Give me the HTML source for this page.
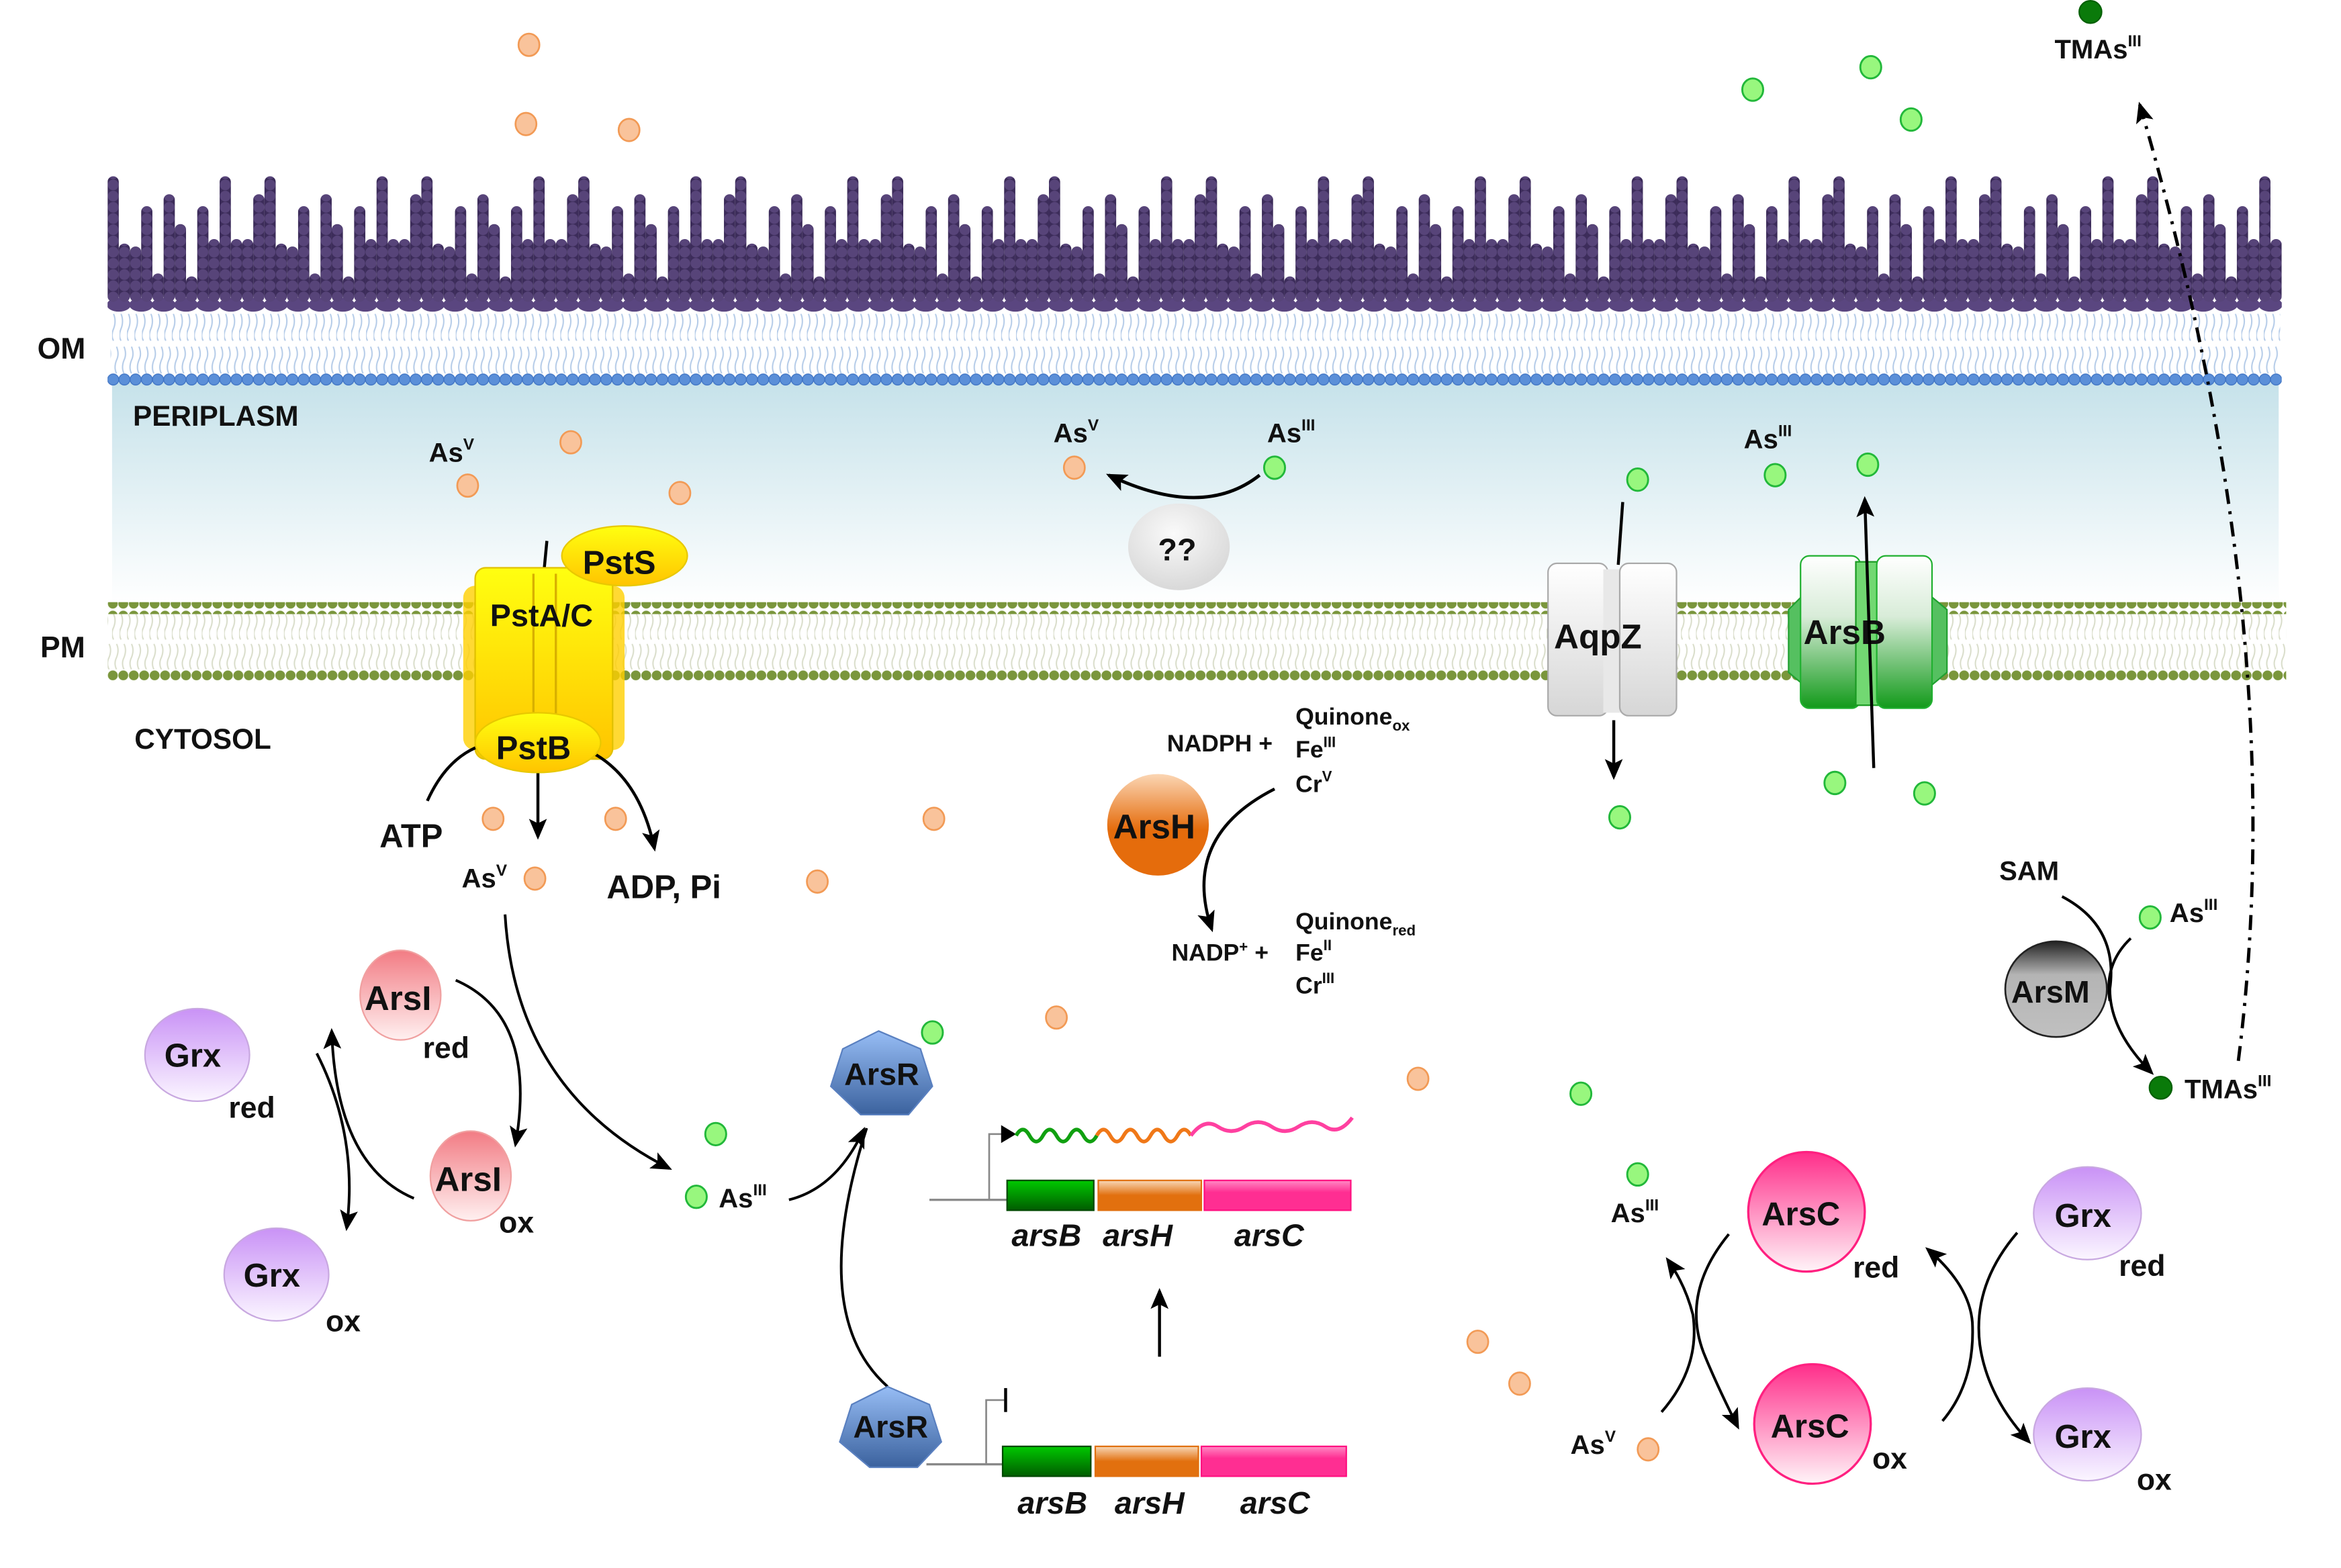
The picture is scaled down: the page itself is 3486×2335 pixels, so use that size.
<!DOCTYPE html>
<html><head><meta charset="utf-8"><style>
html,body{margin:0;padding:0;background:#fff;}
svg{display:block;}
text{font-family:"Liberation Sans",Arial,sans-serif;font-weight:bold;fill:#111;}
</style></head><body>
<svg width="3486" height="2335" viewBox="0 0 1566.7 1049.4" preserveAspectRatio="none" xmlns="http://www.w3.org/2000/svg">
<defs>
<marker id="ahs" markerWidth="14" markerHeight="12" refX="12" refY="6" orient="auto" markerUnits="userSpaceOnUse"><path d="M0,0 L14,6 L0,12 L3,6 Z" fill="#000"/></marker>
<pattern id="beads" patternUnits="userSpaceOnUse" x="0" y="0" width="7.5" height="7.5"><rect width="7.5" height="7.5" fill="#3c2c5a"/><circle cx="3.75" cy="3.75" r="3.6" fill="#574479"/></pattern>
<pattern id="omt" patternUnits="userSpaceOnUse" x="0" y="210" width="5" height="40"><path d="M1,0 q2,5 0,10 q-2,5 0,8 M3,22 q2,5 0,9 q-2,5 0,9" stroke="#b4cbe8" stroke-width="0.9" fill="none"/></pattern>
<pattern id="omh" patternUnits="userSpaceOnUse" x="72" y="250" width="7.5" height="8"><circle cx="3.75" cy="4" r="3.7" fill="#5b8fd8" stroke="#3f74c4" stroke-width="0.6"/></pattern>
<pattern id="pmh" patternUnits="userSpaceOnUse" x="72" y="0" width="7" height="8"><circle cx="3.5" cy="4" r="3.3" fill="#7a963c"/></pattern>
<pattern id="pmt" patternUnits="userSpaceOnUse" x="0" y="411" width="5" height="38"><path d="M1,0 q2,4 0,9 q-2,4 0,8 M3,20 q2,4 0,9 q-2,4 0,8" stroke="#d9ddca" stroke-width="0.9" fill="none"/></pattern>
<linearGradient id="peri" x1="0" y1="0" x2="0" y2="1"><stop offset="0" stop-color="#c6e2ea"/><stop offset="1" stop-color="#ffffff"/></linearGradient>
<linearGradient id="yel" x1="0" y1="0" x2="0" y2="1"><stop offset="0" stop-color="#ffff10"/><stop offset="1" stop-color="#ffc400"/></linearGradient>
<linearGradient id="wht" x1="0" y1="0" x2="0" y2="1"><stop offset="0" stop-color="#ffffff"/><stop offset="1" stop-color="#d6d6d6"/></linearGradient>
<linearGradient id="grn" x1="0" y1="0" x2="0" y2="1"><stop offset="0" stop-color="#ffffff"/><stop offset="0.4" stop-color="#d8ecd8"/><stop offset="1" stop-color="#129a1a"/></linearGradient>
<linearGradient id="org" x1="0" y1="0" x2="0" y2="1"><stop offset="0" stop-color="#fbd6b4"/><stop offset="0.55" stop-color="#e56c0c"/><stop offset="1" stop-color="#e56c0c"/></linearGradient>
<linearGradient id="pink" x1="0" y1="0" x2="0" y2="1"><stop offset="0" stop-color="#ff2e8a"/><stop offset="1" stop-color="#fff4f8"/></linearGradient>
<linearGradient id="arsi" x1="0" y1="0" x2="0" y2="1"><stop offset="0" stop-color="#f27c84"/><stop offset="1" stop-color="#fff0f0"/></linearGradient>
<linearGradient id="purp" x1="0" y1="0" x2="0" y2="1"><stop offset="0" stop-color="#c992f6"/><stop offset="1" stop-color="#fbf6ff"/></linearGradient>
<linearGradient id="grey" x1="0" y1="0" x2="0" y2="1"><stop offset="0" stop-color="#222"/><stop offset="0.35" stop-color="#b4b4b4"/><stop offset="1" stop-color="#c0c0c0"/></linearGradient>
<linearGradient id="blu" x1="0" y1="0" x2="0" y2="1"><stop offset="0" stop-color="#97bdf5"/><stop offset="1" stop-color="#3b629e"/></linearGradient>
<radialGradient id="qq" cx="0.45" cy="0.35" r="0.7"><stop offset="0" stop-color="#fafafa"/><stop offset="1" stop-color="#d6d6d6"/></radialGradient>
<linearGradient id="gb" x1="0" y1="0" x2="0" y2="1"><stop offset="0" stop-color="#00c800"/><stop offset="1" stop-color="#005c00"/></linearGradient>
<linearGradient id="ob" x1="0" y1="0" x2="0" y2="1"><stop offset="0" stop-color="#f8d8b8"/><stop offset="0.5" stop-color="#e2700e"/><stop offset="1" stop-color="#e2700e"/></linearGradient>
<linearGradient id="pb" x1="0" y1="0" x2="0" y2="1"><stop offset="0" stop-color="#ff8ac4"/><stop offset="0.4" stop-color="#ff2e92"/><stop offset="1" stop-color="#ff2e92"/></linearGradient>
<clipPath id="omc"><rect x="72" y="100" width="1455" height="120"/></clipPath>
<g id="lps">
<ellipse cx="7.5" cy="204" rx="8" ry="4.6" fill="#5a4680"/><rect x="0" y="118" width="7.5" height="84" rx="3.7" fill="url(#beads)"/><rect x="7.5" y="163" width="7.5" height="39" rx="3.7" fill="url(#beads)"/>
<ellipse cx="22.5" cy="204" rx="8" ry="4.6" fill="#5a4680"/><rect x="15" y="165" width="7.5" height="37" rx="3.7" fill="url(#beads)"/><rect x="22.5" y="138" width="7.5" height="64" rx="3.7" fill="url(#beads)"/>
<ellipse cx="37.5" cy="204" rx="8" ry="4.6" fill="#5a4680"/><rect x="30" y="183" width="7.5" height="19" rx="3.7" fill="url(#beads)"/><rect x="37.5" y="130" width="7.5" height="72" rx="3.7" fill="url(#beads)"/>
<ellipse cx="52.5" cy="204" rx="8" ry="4.6" fill="#5a4680"/><rect x="45" y="150" width="7.5" height="52" rx="3.7" fill="url(#beads)"/><rect x="52.5" y="185" width="7.5" height="17" rx="3.7" fill="url(#beads)"/>
<ellipse cx="67.5" cy="204" rx="8" ry="4.6" fill="#5a4680"/><rect x="60" y="138" width="7.5" height="64" rx="3.7" fill="url(#beads)"/><rect x="67.5" y="160" width="7.5" height="42" rx="3.7" fill="url(#beads)"/>
<ellipse cx="82.5" cy="204" rx="8" ry="4.6" fill="#5a4680"/><rect x="75" y="118" width="7.5" height="84" rx="3.7" fill="url(#beads)"/><rect x="82.5" y="160" width="7.5" height="42" rx="3.7" fill="url(#beads)"/>
<ellipse cx="97.5" cy="204" rx="8" ry="4.6" fill="#5a4680"/><rect x="90" y="160" width="7.5" height="42" rx="3.7" fill="url(#beads)"/><rect x="97.5" y="130" width="7.5" height="72" rx="3.7" fill="url(#beads)"/>
</g>
</defs>

<rect x="75" y="256" width="1450" height="148" fill="url(#peri)"/>
<g clip-path="url(#omc)">
<use href="#lps" x="72" y="0"/><use href="#lps" x="177" y="0"/><use href="#lps" x="282" y="0"/><use href="#lps" x="387" y="0"/><use href="#lps" x="492" y="0"/><use href="#lps" x="597" y="0"/><use href="#lps" x="702" y="0"/><use href="#lps" x="807" y="0"/><use href="#lps" x="912" y="0"/><use href="#lps" x="1017" y="0"/><use href="#lps" x="1122" y="0"/><use href="#lps" x="1227" y="0"/><use href="#lps" x="1332" y="0"/><use href="#lps" x="1437" y="0"/>
</g>
<rect x="74" y="210" width="1452" height="40" fill="url(#omt)"/>
<rect x="72" y="250" width="1455" height="8" fill="url(#omh)"/>
<rect x="72" y="403" width="1458" height="8" fill="url(#pmh)"/>
<rect x="72" y="411" width="1458" height="37" fill="url(#pmt)"/>
<rect x="72" y="448" width="1458" height="8" fill="url(#pmh)"/>

<text x="25" y="240" font-size="20">OM</text>
<text x="89" y="285" font-size="19">PERIPLASM</text>
<text x="27" y="440" font-size="20">PM</text>
<text x="90" y="501" font-size="19">CYTOSOL</text>

<line x1="366" y1="362" x2="364" y2="383" stroke="#000" stroke-width="2"/>
<rect x="310" y="392" width="108" height="110" rx="8" fill="#ffd000" opacity="0.8"/>
<rect x="318" y="380" width="92" height="128" rx="7" fill="url(#yel)" stroke="#e0c000"/>
<line x1="357" y1="384" x2="357" y2="505" stroke="#d8b000" stroke-width="1.5"/>
<line x1="372" y1="384" x2="372" y2="505" stroke="#d8b000" stroke-width="1.5"/>
<ellipse cx="418" cy="372" rx="42" ry="20" fill="url(#yel)" stroke="#e8c800"/>
<text x="390" y="384" font-size="22">PstS</text>
<text x="328" y="419" font-size="21">PstA/C</text>
<path d="M286,536 Q300,505 325,498" fill="none" stroke="#000" stroke-width="2"/>
<path d="M395,503 Q428,520 438,568" fill="none" stroke="#000" stroke-width="2" marker-end="url(#ahs)"/>
<line x1="360" y1="515" x2="360" y2="560" stroke="#000" stroke-width="2" marker-end="url(#ahs)"/>
<ellipse cx="360" cy="497" rx="42" ry="20" fill="url(#yel)" stroke="#e8c800"/>
<text x="332" y="508" font-size="22">PstB</text>
<text x="254" y="567" font-size="22">ATP</text>
<text x="406" y="601" font-size="22">ADP, Pi</text>

<path d="M843,318 Q805,348 742,318" fill="none" stroke="#000" stroke-width="2.2" marker-end="url(#ahs)"/>
<ellipse cx="789" cy="366" rx="34" ry="29" fill="url(#qq)"/>
<text x="775" y="375" font-size="21">??</text>

<line x1="1086" y1="336" x2="1083" y2="378" stroke="#000" stroke-width="2"/>
<rect x="1036" y="377" width="40" height="102" rx="6" fill="url(#wht)" stroke="#aaa"/>
<rect x="1073" y="381" width="14" height="96" fill="#e8e8e8"/>
<rect x="1084" y="377" width="38" height="102" rx="6" fill="url(#wht)" stroke="#aaa"/>
<text x="1040" y="434" font-size="23">AqpZ</text>
<line x1="1080" y1="482" x2="1080" y2="520" stroke="#000" stroke-width="2" marker-end="url(#ahs)"/>

<polygon points="1207,398 1197,408 1197,450 1209,460 1291,460 1303,450 1303,408 1291,398" fill="#55c060" stroke="#20a030"/>
<rect x="1205" y="372" width="40" height="102" rx="6" fill="url(#grn)" stroke="#20b030"/>
<rect x="1242" y="376" width="16" height="96" fill="#72d872" stroke="#1a9a22"/>
<rect x="1256" y="372" width="37" height="102" rx="6" fill="url(#grn)" stroke="#20b030"/>
<text x="1207" y="431" font-size="23">ArsB</text>
<line x1="1254" y1="514" x2="1248" y2="334" stroke="#000" stroke-width="2" marker-end="url(#ahs)"/>

<path d="M853,528 Q790,560 811,622" fill="none" stroke="#000" stroke-width="2" marker-end="url(#ahs)"/>
<circle cx="775" cy="552" r="34" fill="url(#org)"/>
<text x="745" y="561" font-size="23">ArsH</text>
<g font-size="16">
<text x="781" y="503">NADPH  +</text>
<text x="867" y="485">Quinone<tspan font-size="10" dy="4">ox</tspan></text>
<text x="867" y="507">Fe<tspan font-size="10" dy="-7">III</tspan></text>
<text x="867" y="530">Cr<tspan font-size="10" dy="-7">V</tspan></text>
<text x="784" y="643">NADP<tspan font-size="10" dy="-6">+</tspan><tspan dy="6"> +</tspan></text>
<text x="867" y="622">Quinone<tspan font-size="10" dy="4">red</tspan></text>
<text x="867" y="643">Fe<tspan font-size="10" dy="-7">II</tspan></text>
<text x="867" y="665">Cr<tspan font-size="10" dy="-7">III</tspan></text>
</g>

<path d="M338,612 Q345,730 448,782" fill="none" stroke="#000" stroke-width="1.8" marker-end="url(#ahs)"/>
<path d="M305,656 Q360,680 345,766" fill="none" stroke="#000" stroke-width="1.8" marker-end="url(#ahs)"/>
<path d="M277,802 Q225,780 222,690" fill="none" stroke="#000" stroke-width="1.8" marker-end="url(#ahs)"/>
<path d="M212,705 Q240,760 232,822" fill="none" stroke="#000" stroke-width="1.8" marker-end="url(#ahs)"/>
<ellipse cx="268" cy="666" rx="27" ry="30" fill="url(#arsi)" stroke="#f0a0a0"/>
<text x="244" y="676" font-size="23">ArsI</text>
<text x="283" y="708" font-size="20">red</text>
<ellipse cx="315" cy="787" rx="27" ry="30" fill="url(#arsi)" stroke="#f0a0a0"/>
<text x="291" y="797" font-size="23">ArsI</text>
<text x="334" y="825" font-size="20">ox</text>
<ellipse cx="132" cy="706" rx="35" ry="31" fill="url(#purp)" stroke="#c8a8e0"/>
<text x="110" y="714" font-size="22">Grx</text>
<text x="153" y="748" font-size="20">red</text>
<ellipse cx="185" cy="853" rx="35" ry="31" fill="url(#purp)" stroke="#c8a8e0"/>
<text x="163" y="861" font-size="22">Grx</text>
<text x="218" y="891" font-size="20">ox</text>

<path d="M528,803 Q560,795 578,756" fill="none" stroke="#000" stroke-width="1.8" marker-end="url(#ahs)"/>
<path d="M594,928 Q540,880 580,755" fill="none" stroke="#000" stroke-width="1.8"/>
<polygon points="588,690 616,702 624,727 608,746 576,746 556,727 564,702" fill="url(#blu)" stroke="#5a80c0"/>
<text x="565" y="726" font-size="21">ArsR</text>
<polygon points="594,928 622,940 630,965 614,982 582,982 562,965 570,940" fill="url(#blu)" stroke="#5a80c0"/>
<text x="571" y="962" font-size="21">ArsR</text>

<line x1="622" y1="803" x2="674" y2="803" stroke="#888" stroke-width="1.5"/>
<path d="M662,803 V759 H674" fill="none" stroke="#888" stroke-width="1.2"/>
<polygon points="670,753 680,759 670,765" fill="#000"/>
<path d="M680,760 q4.5,-8 9,0 t9,0 t9,0 t9,0 t9,0 t9,0" fill="none" stroke="#10a010" stroke-width="2.5"/>
<path d="M734,760 q4.5,-8 9,0 t9,0 t9,0 t9,0 t9,0 t9,0 t9,0" fill="none" stroke="#f07818" stroke-width="2.5"/>
<path d="M797,760 q9,-12 18,-6 t18,0 t18,0 t18,0 t18,0 t18,-6" fill="none" stroke="#ff40a0" stroke-width="2.5"/>
<rect x="674" y="790" width="58" height="20" fill="url(#gb)" stroke="#004800"/>
<rect x="735" y="790" width="69" height="20" fill="url(#ob)" stroke="#e07010"/>
<rect x="806" y="790" width="98" height="20" fill="url(#pb)" stroke="#ff1080"/>
<g font-size="21" font-style="italic">
<text x="677" y="834">arsB</text><text x="738" y="834">arsH</text><text x="826" y="834">arsC</text>
<text x="681" y="1013">arsB</text><text x="746" y="1013">arsH</text><text x="830" y="1013">arsC</text>
</g>
<line x1="776" y1="908" x2="776" y2="864" stroke="#000" stroke-width="2" marker-end="url(#ahs)"/>
<line x1="620" y1="980" x2="671" y2="980" stroke="#888" stroke-width="1.5"/>
<path d="M660,980 V937 H672" fill="none" stroke="#888" stroke-width="1.2"/>
<line x1="673" y1="929" x2="673" y2="945" stroke="#000" stroke-width="2"/>
<rect x="671" y="968" width="59" height="20" fill="url(#gb)" stroke="#004800"/>
<rect x="733" y="968" width="69" height="20" fill="url(#ob)" stroke="#e07010"/>
<rect x="804" y="968" width="97" height="20" fill="url(#pb)" stroke="#ff1080"/>

<path d="M1157,826 Q1125,865 1140,905 Q1148,925 1163,955" fill="none" stroke="#000" stroke-width="1.8" marker-end="url(#ahs)"/>
<path d="M1112,945 Q1138,915 1133,880 Q1128,860 1116,843" fill="none" stroke="#000" stroke-width="1.8" marker-end="url(#ahs)"/>
<path d="M1300,951 Q1322,925 1320,885 Q1318,860 1290,836" fill="none" stroke="#000" stroke-width="1.8" marker-end="url(#ahs)"/>
<path d="M1350,825 Q1320,860 1325,900 Q1330,935 1358,965" fill="none" stroke="#000" stroke-width="1.8" marker-end="url(#ahs)"/>
<ellipse cx="1209" cy="811" rx="39" ry="40" fill="url(#pink)" stroke="#ff2080" stroke-width="1.5"/>
<text x="1179" y="820" font-size="22">ArsC</text>
<text x="1240" y="855" font-size="20">red</text>
<ellipse cx="1213" cy="953" rx="39" ry="40" fill="url(#pink)" stroke="#ff2080" stroke-width="1.5"/>
<text x="1185" y="962" font-size="22">ArsC</text>
<text x="1253" y="983" font-size="20">ox</text>
<ellipse cx="1397" cy="812" rx="36" ry="31" fill="url(#purp)" stroke="#c8a8e0"/>
<text x="1375" y="821" font-size="22">Grx</text>
<text x="1418" y="854" font-size="20">red</text>
<ellipse cx="1397" cy="960" rx="36" ry="31" fill="url(#purp)" stroke="#c8a8e0"/>
<text x="1375" y="969" font-size="22">Grx</text>
<text x="1430" y="997" font-size="20">ox</text>

<path d="M1380,600 Q1418,620 1412,662 Q1412,690 1440,718" fill="none" stroke="#000" stroke-width="1.8" marker-end="url(#ahs)"/>
<path d="M1426,628 Q1408,645 1412,670" fill="none" stroke="#000" stroke-width="1.8"/>
<ellipse cx="1376" cy="662" rx="34" ry="32" fill="url(#grey)" stroke="#222" stroke-width="1.2"/>
<text x="1346" y="671" font-size="21">ArsM</text>
<text x="1338" y="589" font-size="18">SAM</text>
<path d="M1498,710 Q1535,420 1432,70" fill="none" stroke="#000" stroke-width="2.2" stroke-dasharray="10,5,2,5" marker-end="url(#ahs)"/>

<g fill="#f9c39b" stroke="#f29a55" stroke-width="1.2">
<ellipse cx="354" cy="30" rx="7" ry="7.5"/><ellipse cx="352" cy="83" rx="7" ry="7.5"/><ellipse cx="421" cy="87" rx="7" ry="7.5"/>
<ellipse cx="382" cy="296" rx="7" ry="7.5"/><ellipse cx="313" cy="325" rx="7" ry="7.5"/><ellipse cx="455" cy="330" rx="7" ry="7.5"/>
<ellipse cx="719" cy="313" rx="7" ry="7.5"/><ellipse cx="330" cy="548" rx="7" ry="7.5"/><ellipse cx="412" cy="548" rx="7" ry="7.5"/>
<ellipse cx="358" cy="588" rx="7" ry="7.5"/><ellipse cx="625" cy="548" rx="7" ry="7.5"/><ellipse cx="547" cy="590" rx="7" ry="7.5"/>
<ellipse cx="707" cy="681" rx="7" ry="7.5"/><ellipse cx="949" cy="722" rx="7" ry="7.5"/><ellipse cx="989" cy="898" rx="7" ry="7.5"/>
<ellipse cx="1017" cy="926" rx="7" ry="7.5"/><ellipse cx="1103" cy="970" rx="7" ry="7.5"/>
</g>
<g fill="#98f77e" stroke="#22b83a" stroke-width="1.3">
<ellipse cx="1173" cy="60" rx="7" ry="7.5"/><ellipse cx="1252" cy="45" rx="7" ry="7.5"/><ellipse cx="1279" cy="80" rx="7" ry="7.5"/>
<ellipse cx="853" cy="313" rx="7" ry="7.5"/><ellipse cx="1096" cy="321" rx="7" ry="7.5"/><ellipse cx="1188" cy="318" rx="7" ry="7.5"/>
<ellipse cx="1250" cy="311" rx="7" ry="7.5"/><ellipse cx="1228" cy="524" rx="7" ry="7.5"/><ellipse cx="1288" cy="531" rx="7" ry="7.5"/>
<ellipse cx="1084" cy="547" rx="7" ry="7.5"/><ellipse cx="1439" cy="614" rx="7" ry="7.5"/><ellipse cx="624" cy="691" rx="7" ry="7.5"/>
<ellipse cx="479" cy="759" rx="7" ry="7.5"/><ellipse cx="466" cy="801" rx="7" ry="7.5"/><ellipse cx="1058" cy="732" rx="7" ry="7.5"/>
<ellipse cx="1096" cy="786" rx="7" ry="7.5"/>
</g>
<circle cx="1399" cy="8" r="7.5" fill="#0a7a0a" stroke="#056005"/>
<circle cx="1446" cy="728" r="7.5" fill="#0a7a0a" stroke="#056005"/>

<g font-size="18">
<text x="287" y="309">As<tspan font-size="11" dy="-8">V</tspan></text>
<text x="705" y="296">As<tspan font-size="11" dy="-8">V</tspan></text>
<text x="848" y="296">As<tspan font-size="11" dy="-8">III</tspan></text>
<text x="1167" y="300">As<tspan font-size="11" dy="-8">III</tspan></text>
<text x="309" y="594">As<tspan font-size="11" dy="-8">V</tspan></text>
<text x="481" y="808">As<tspan font-size="11" dy="-8">III</tspan></text>
<text x="1078" y="818">As<tspan font-size="11" dy="-8">III</tspan></text>
<text x="1051" y="973">As<tspan font-size="11" dy="-8">V</tspan></text>
<text x="1452" y="617">As<tspan font-size="11" dy="-8">III</tspan></text>
<text x="1462" y="735">TMAs<tspan font-size="11" dy="-8">III</tspan></text>
<text x="1375" y="39">TMAs<tspan font-size="11" dy="-8">III</tspan></text>
</g>
</svg>
</body></html>
